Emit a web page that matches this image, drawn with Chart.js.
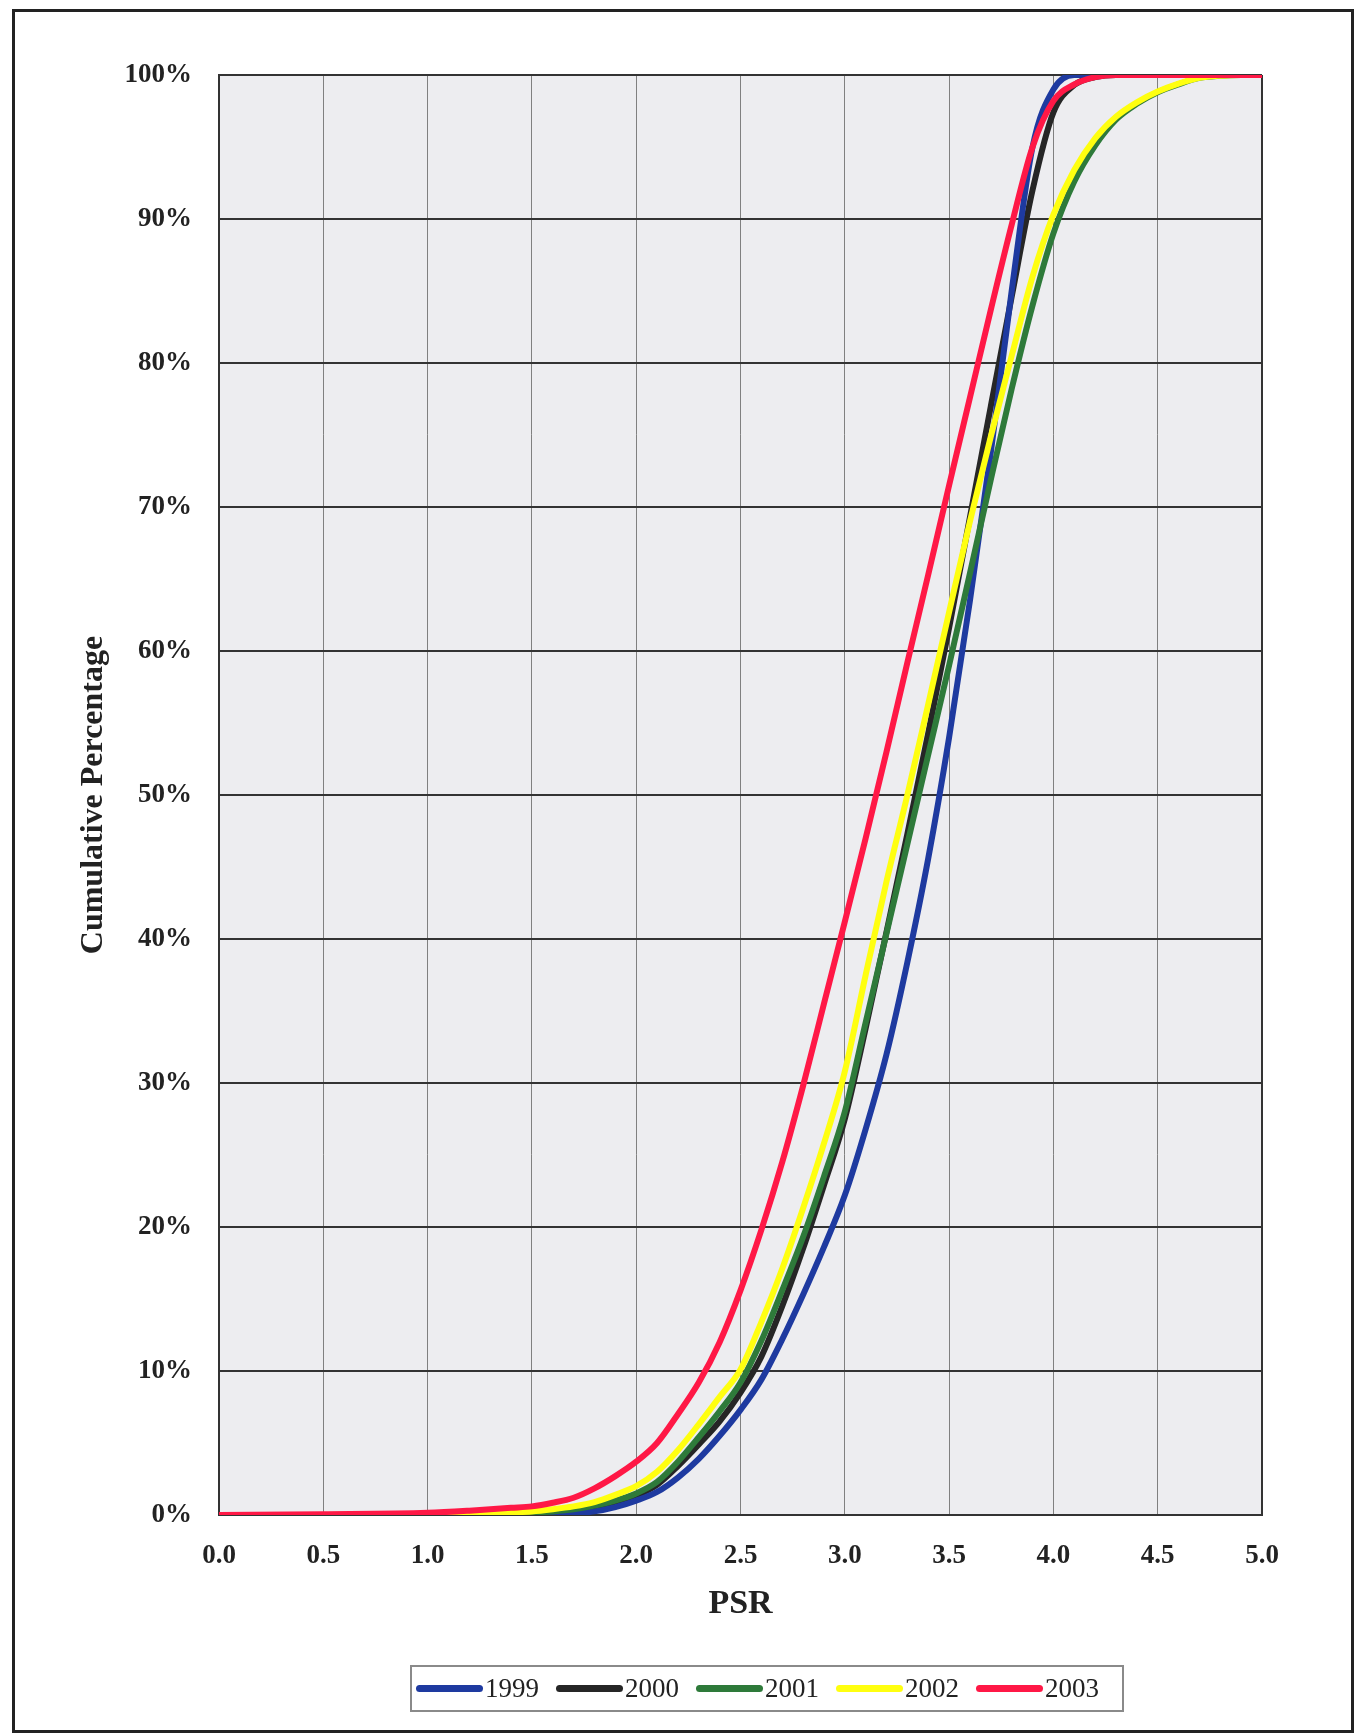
<!DOCTYPE html>
<html lang="en">
<head>
  <meta charset="UTF-8">
  <title>Cumulative Percentage by PSR, 1999-2003</title>
  <script src="https://cdn.jsdelivr.net/npm/chart.js"></script>
  <style>
    * {
      margin: 0;
      padding: 0;
      box-sizing: border-box;
    }

    body {
      width: 1357px;
      height: 1734px;
      background: #fff;
      position: relative;
      overflow: hidden;
      font-family: 'Liberation Serif', 'Times New Roman', serif;
    }

    .page-border {
      position: absolute;
      left: 12px;
      top: 9px;
      width: 1342px;
      height: 1724px;
      border: 3px solid #222;
    }

    #psrChart {
      position: absolute;
      left: 0;
      top: 0;
    }

    .legend {
      position: absolute;
      left: 410px;
      top: 1665px;
      width: 714px;
      height: 47px;
      border: 2px solid #8a8a8a;
      display: flex;
      align-items: center;
      justify-content: flex-start;
      padding-left: 4px;
    }

    .legend-item {
      display: flex;
      align-items: center;
      margin-right: 17px;
    }

    .legend-line {
      width: 67px;
      height: 7px;
      border-radius: 4px;
      margin-right: 2px;
    }

    .legend-text {
      font-size: 27px;
      color: #222;
    }
  </style>
</head>
<body>
  <div class="page-border"></div>
  <canvas id="psrChart" width="1357" height="1734"></canvas>
  <div class="legend" id="legend"></div>

  <script>
    // PSR values on the x axis
    const psr = [0, 0.5, 1.0, 1.2, 1.4, 1.5, 1.6, 1.7, 1.8, 1.9,
                 2.0, 2.1, 2.2, 2.3, 2.4, 2.5, 2.6, 2.7, 2.8, 2.9,
                 3.0, 3.1, 3.2, 3.3, 3.4, 3.5, 3.6, 3.7, 3.8, 3.9,
                 4.0, 4.1, 4.2, 4.3, 4.4, 4.5, 4.6, 4.7, 4.8, 4.9, 5.0];

    const years = ['1999', '2000', '2001', '2002', '2003'];

    // cumulative percentage for each year, read at the PSR values above
    const y1999 = [0, 0, 0, 0.01, 0.03, 0.05, 0.08, 0.12, 0.25, 0.55,
                   1.0, 1.6, 2.6, 3.9, 5.5, 7.3, 9.4, 12.2, 15.3, 18.6,
                   22.2, 26.8, 32.0, 38.4, 45.6, 54.0, 63.5, 73.8, 85.0, 95.0,
                   99.0, 100, 100, 100, 100, 100, 100, 100, 100, 100, 100];
    const y2000 = [0, 0, 0.02, 0.04, 0.08, 0.12, 0.2, 0.32, 0.55, 0.9,
                   1.35, 2.1, 3.4, 4.9, 6.5, 8.5, 11.0, 14.5, 18.5, 22.9,
                   27.5, 33.8, 40.5, 47.3, 54.3, 61.6, 69.3, 77.0, 84.6, 92.0,
                   97.4, 99.3, 99.85, 100, 100, 100, 100, 100, 100, 100, 100];
    const y2001 = [0, 0, 0.03, 0.05, 0.1, 0.15, 0.25, 0.4, 0.65, 1.0,
                   1.5, 2.3, 3.7, 5.4, 7.2, 9.2, 12.1, 15.6, 19.3, 23.5,
                   28.0, 34.2, 40.4, 46.6, 52.8, 59.0, 65.4, 71.9, 78.2, 84.0,
                   89.0, 92.6, 95.1, 96.9, 98.0, 98.8, 99.35, 99.8, 99.95, 100, 100];
    const y2002 = [0, 0, 0.05, 0.1, 0.2, 0.25, 0.4, 0.6, 0.9, 1.4,
                   2.0, 3.0, 4.5, 6.3, 8.2, 10.1, 13.4, 17.1, 21.3, 25.8,
                   30.8, 37.5, 44.0, 50.0, 56.3, 62.7, 69.0, 74.9, 80.5, 86.0,
                   90.3, 93.4, 95.6, 97.1, 98.1, 98.85, 99.4, 99.8, 99.95, 100, 100];
    const y2003 = [0, 0.05, 0.15, 0.3, 0.5, 0.6, 0.85, 1.2, 1.85, 2.7,
                   3.7, 5.0, 7.0, 9.2, 12.0, 15.6, 19.8, 24.5, 29.8, 35.5,
                   41.2, 47.0, 53.0, 59.2, 65.3, 71.5, 77.6, 83.7, 89.6, 95.0,
                   98.2, 99.35, 99.85, 100, 100, 100, 100, 100, 100, 100, 100];

    const series = [y1999, y2000, y2001, y2002, y2003];
    const lineColors = ['#1e3aa0', '#262626', '#2e7a3a', '#ffff10', '#ff1846'];
    // red sits on top, black underneath
    const drawOrder = [4, 5, 3, 2, 1];

    const serif = 'Liberation Serif';

    const plotBackground = {
      id: 'plotBackground',
      beforeDraw(chart) {
        const { ctx, chartArea } = chart;
        ctx.save();
        ctx.fillStyle = '#ededf0';
        ctx.fillRect(chartArea.left, chartArea.top, chartArea.right - chartArea.left, chartArea.bottom - chartArea.top);
        ctx.restore();
      }
    };

    const datasets = years.map((year, i) => ({
      label: year,
      data: psr.map((x, j) => ({ x: x, y: series[i][j] })),
      borderColor: lineColors[i],
      backgroundColor: lineColors[i],
      borderWidth: 6,
      pointRadius: 0,
      cubicInterpolationMode: 'monotone',
      borderCapStyle: 'round',
      borderJoinStyle: 'round',
      order: drawOrder[i]
    }));

    new Chart(document.getElementById('psrChart'), {
      type: 'line',
      data: { datasets },
      options: {
        responsive: false,
        animation: false,
        layout: {
          padding: { left: 75, right: 95, top: 75, bottom: 109 }
        },
        plugins: {
          legend: { display: false },
          tooltip: { enabled: false }
        },
        scales: {
          x: {
            type: 'linear',
            min: 0,
            max: 5,
            afterFit: scale => { scale.height = 110; },
            ticks: {
              stepSize: 0.5,
              padding: 25,
              maxRotation: 0,
              autoSkip: false,
              color: '#222',
              font: { family: serif, size: 27, weight: 'bold' },
              callback: v => v.toFixed(1)
            },
            grid: {
              drawTicks: false,
              color: ctx => (ctx.tick && ctx.tick.value === 5 ? '#333' : '#808080'),
              lineWidth: ctx => (ctx.tick && ctx.tick.value === 5 ? 2 : 1)
            },
            border: { color: '#333', width: 2 },
            title: {
              display: true,
              text: 'PSR',
              padding: 0,
              color: '#222',
              font: { family: serif, size: 34, weight: 'bold' }
            }
          },
          y: {
            min: 0,
            max: 100,
            afterFit: scale => { scale.width = 144; },
            ticks: {
              stepSize: 10,
              padding: 27,
              color: '#222',
              font: { family: serif, size: 27, weight: 'bold' },
              callback: v => v + '%'
            },
            grid: {
              drawTicks: false,
              color: '#333',
              lineWidth: 2
            },
            border: { color: '#333', width: 2 },
            title: {
              display: true,
              text: 'Cumulative Percentage',
              padding: 0,
              color: '#222',
              font: { family: serif, size: 32, weight: 'bold' }
            }
          }
        }
      },
      plugins: [plotBackground]
    });

    // legend built from the same year / colour lists
    const legend = document.getElementById('legend');
    years.forEach((year, i) => {
      const item = document.createElement('div');
      item.className = 'legend-item';
      const line = document.createElement('span');
      line.className = 'legend-line';
      line.style.background = lineColors[i];
      const text = document.createElement('span');
      text.className = 'legend-text';
      text.textContent = year;
      item.appendChild(line);
      item.appendChild(text);
      legend.appendChild(item);
    });
  </script>
</body>
</html>
